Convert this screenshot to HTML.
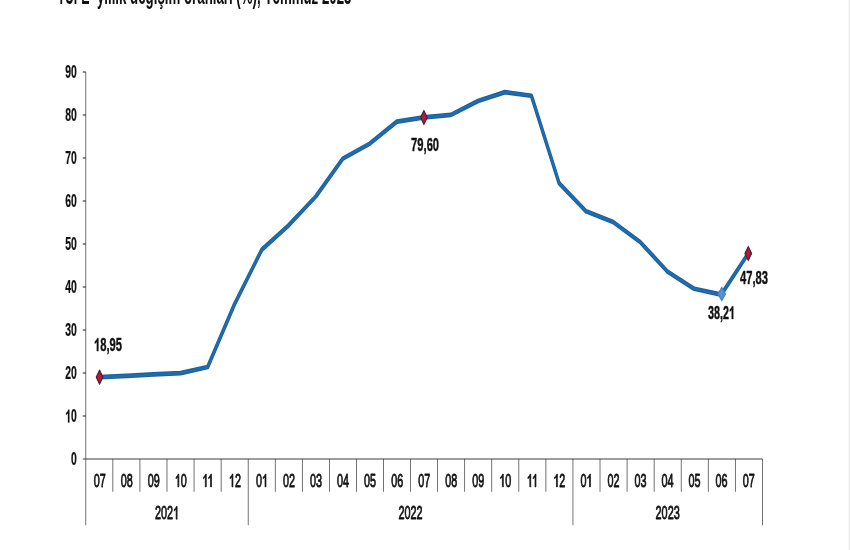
<!DOCTYPE html>
<html><head><meta charset="utf-8"><title>chart</title>
<style>
html,body{margin:0;padding:0;background:#fff;}
body{width:850px;height:550px;overflow:hidden;position:relative;font-family:"Liberation Sans",sans-serif;}
svg{position:absolute;left:0;top:0;display:block;will-change:transform;}
text{font-family:"Liberation Sans",sans-serif;fill:#111;font-kerning:none;}
.b{font-weight:bold;}
.h{fill:none;stroke:none;}
.r{fill:#111;stroke:#111;stroke-width:0.7px;stroke-linejoin:round;}
.d{fill:#111;stroke:#111;stroke-width:0.35px;stroke-linejoin:round;}
.y{fill:#111;stroke:#111;stroke-width:0.2px;stroke-linejoin:round;}
.r *,.d *,.y *{vector-effect:non-scaling-stroke;}
.r text,.d text,.y text{stroke-width:inherit;}
.r .h,.d .h,.y .h{fill:none;stroke:none;}
</style></head><body>
<svg width="850" height="550" viewBox="0 0 850 550">
<rect width="850" height="550" fill="#ffffff"/>
<rect x="848.6" y="0" width="1.4" height="550" fill="#e9e9e9"/>
<text class="b" x="57.4" y="3.7" font-size="25" textLength="32.2" lengthAdjust="spacingAndGlyphs">TÜFE</text>
<text class="b" x="96.9" y="3.7" font-size="25" textLength="254.6" lengthAdjust="spacingAndGlyphs">yıllık değişim oranları (%), Temmuz 2023</text>
<g transform="scale(0.6 1)" stroke="#3c3c3c" stroke-width="1.2" fill="none">
<line x1="143.00" y1="72" x2="143.00" y2="459.0"/>
<line x1="138.00" y1="459.0" x2="1270.67" y2="459.0"/>
<line x1="138.00" y1="416.0" x2="143.00" y2="416.0"/>
<line x1="138.00" y1="373.0" x2="143.00" y2="373.0"/>
<line x1="138.00" y1="330.0" x2="143.00" y2="330.0"/>
<line x1="138.00" y1="287.0" x2="143.00" y2="287.0"/>
<line x1="138.00" y1="244.0" x2="143.00" y2="244.0"/>
<line x1="138.00" y1="201.0" x2="143.00" y2="201.0"/>
<line x1="138.00" y1="158.0" x2="143.00" y2="158.0"/>
<line x1="138.00" y1="115.0" x2="143.00" y2="115.0"/>
<line x1="138.00" y1="72.0" x2="143.00" y2="72.0"/>
<line x1="143.00" y1="459.0" x2="143.00" y2="525.3"/>
<line x1="188.11" y1="459.0" x2="188.11" y2="491.8"/>
<line x1="233.21" y1="459.0" x2="233.21" y2="491.8"/>
<line x1="278.32" y1="459.0" x2="278.32" y2="491.8"/>
<line x1="323.43" y1="459.0" x2="323.43" y2="491.8"/>
<line x1="368.53" y1="459.0" x2="368.53" y2="491.8"/>
<line x1="413.64" y1="459.0" x2="413.64" y2="525.3"/>
<line x1="458.75" y1="459.0" x2="458.75" y2="491.8"/>
<line x1="503.85" y1="459.0" x2="503.85" y2="491.8"/>
<line x1="548.96" y1="459.0" x2="548.96" y2="491.8"/>
<line x1="594.07" y1="459.0" x2="594.07" y2="491.8"/>
<line x1="639.17" y1="459.0" x2="639.17" y2="491.8"/>
<line x1="684.28" y1="459.0" x2="684.28" y2="491.8"/>
<line x1="729.39" y1="459.0" x2="729.39" y2="491.8"/>
<line x1="774.49" y1="459.0" x2="774.49" y2="491.8"/>
<line x1="819.60" y1="459.0" x2="819.60" y2="491.8"/>
<line x1="864.71" y1="459.0" x2="864.71" y2="491.8"/>
<line x1="909.81" y1="459.0" x2="909.81" y2="491.8"/>
<line x1="954.92" y1="459.0" x2="954.92" y2="525.3"/>
<line x1="1000.03" y1="459.0" x2="1000.03" y2="491.8"/>
<line x1="1045.13" y1="459.0" x2="1045.13" y2="491.8"/>
<line x1="1090.24" y1="459.0" x2="1090.24" y2="491.8"/>
<line x1="1135.35" y1="459.0" x2="1135.35" y2="491.8"/>
<line x1="1180.45" y1="459.0" x2="1180.45" y2="491.8"/>
<line x1="1225.56" y1="459.0" x2="1225.56" y2="491.8"/>
<line x1="1270.67" y1="459.0" x2="1270.67" y2="525.3"/>
</g>
<g transform="translate(71.10 465.40) scale(0.5640 1)" class="y"><text x="0.00" y="0" font-size="18.5" font-weight="bold">0</text></g>
<g transform="translate(65.29 422.40) scale(0.5640 1)" class="y"><text x="0.00 10.29" y="0" font-size="18.5" font-weight="bold"><tspan class="h">1</tspan>0</text><path transform="translate(0.00 0) scale(0.00903 -0.00903)" d="M806 0H525V1018Q371 879 162 813V1058Q272 1093 401 1189Q530 1286 578 1409H806Z"/></g>
<g transform="translate(65.29 379.40) scale(0.5640 1)" class="y"><text x="0.00 10.29" y="0" font-size="18.5" font-weight="bold">20</text></g>
<g transform="translate(65.29 336.40) scale(0.5640 1)" class="y"><text x="0.00 10.29" y="0" font-size="18.5" font-weight="bold">30</text></g>
<g transform="translate(65.29 293.40) scale(0.5640 1)" class="y"><text x="0.00 10.29" y="0" font-size="18.5" font-weight="bold">40</text></g>
<g transform="translate(65.29 250.40) scale(0.5640 1)" class="y"><text x="0.00 10.29" y="0" font-size="18.5" font-weight="bold">50</text></g>
<g transform="translate(65.29 207.40) scale(0.5640 1)" class="y"><text x="0.00 10.29" y="0" font-size="18.5" font-weight="bold">60</text></g>
<g transform="translate(65.29 164.40) scale(0.5640 1)" class="y"><text x="0.00 10.29" y="0" font-size="18.5" font-weight="bold">70</text></g>
<g transform="translate(65.29 121.40) scale(0.5640 1)" class="y"><text x="0.00 10.29" y="0" font-size="18.5" font-weight="bold">80</text></g>
<g transform="translate(65.29 78.40) scale(0.5640 1)" class="y"><text x="0.00 10.29" y="0" font-size="18.5" font-weight="bold">90</text></g>
<g transform="translate(93.69 486.90) scale(0.5780 1)" class="r"><text x="0.00 10.40" y="0" font-size="18.7">07</text></g>
<g transform="translate(120.73 486.90) scale(0.5780 1)" class="r"><text x="0.00 10.40" y="0" font-size="18.7">08</text></g>
<g transform="translate(147.77 486.90) scale(0.5780 1)" class="r"><text x="0.00 10.40" y="0" font-size="18.7">09</text></g>
<g transform="translate(174.81 486.90) scale(0.5780 1)" class="r"><text x="0.00 10.40" y="0" font-size="18.7"><tspan class="h">1</tspan>0</text><path transform="translate(0.00 0) scale(0.00913 -0.00913)" d="M763 0H583V1102Q518 1043 412 983Q307 924 223 894V1061Q374 1129 487 1226Q600 1323 647 1409H763Z"/></g>
<g transform="translate(202.25 486.90) scale(0.5780 1)" class="r"><text x="0.00 9.01" y="0" font-size="18.7"><tspan class="h">1</tspan><tspan class="h">1</tspan></text><path transform="translate(0.00 0) scale(0.00913 -0.00913)" d="M763 0H583V1102Q518 1043 412 983Q307 924 223 894V1061Q374 1129 487 1226Q600 1323 647 1409H763Z"/><path transform="translate(9.01 0) scale(0.00913 -0.00913)" d="M763 0H583V1102Q518 1043 412 983Q307 924 223 894V1061Q374 1129 487 1226Q600 1323 647 1409H763Z"/></g>
<g transform="translate(228.89 486.90) scale(0.5780 1)" class="r"><text x="0.00 10.40" y="0" font-size="18.7"><tspan class="h">1</tspan>2</text><path transform="translate(0.00 0) scale(0.00913 -0.00913)" d="M763 0H583V1102Q518 1043 412 983Q307 924 223 894V1061Q374 1129 487 1226Q600 1323 647 1409H763Z"/></g>
<g transform="translate(255.93 486.90) scale(0.5780 1)" class="r"><text x="0.00 10.40" y="0" font-size="18.7">0<tspan class="h">1</tspan></text><path transform="translate(10.40 0) scale(0.00913 -0.00913)" d="M763 0H583V1102Q518 1043 412 983Q307 924 223 894V1061Q374 1129 487 1226Q600 1323 647 1409H763Z"/></g>
<g transform="translate(282.97 486.90) scale(0.5780 1)" class="r"><text x="0.00 10.40" y="0" font-size="18.7">02</text></g>
<g transform="translate(310.01 486.90) scale(0.5780 1)" class="r"><text x="0.00 10.40" y="0" font-size="18.7">03</text></g>
<g transform="translate(337.05 486.90) scale(0.5780 1)" class="r"><text x="0.00 10.40" y="0" font-size="18.7">04</text></g>
<g transform="translate(364.09 486.90) scale(0.5780 1)" class="r"><text x="0.00 10.40" y="0" font-size="18.7">05</text></g>
<g transform="translate(391.13 486.90) scale(0.5780 1)" class="r"><text x="0.00 10.40" y="0" font-size="18.7">06</text></g>
<g transform="translate(418.17 486.90) scale(0.5780 1)" class="r"><text x="0.00 10.40" y="0" font-size="18.7">07</text></g>
<g transform="translate(445.21 486.90) scale(0.5780 1)" class="r"><text x="0.00 10.40" y="0" font-size="18.7">08</text></g>
<g transform="translate(472.25 486.90) scale(0.5780 1)" class="r"><text x="0.00 10.40" y="0" font-size="18.7">09</text></g>
<g transform="translate(499.29 486.90) scale(0.5780 1)" class="r"><text x="0.00 10.40" y="0" font-size="18.7"><tspan class="h">1</tspan>0</text><path transform="translate(0.00 0) scale(0.00913 -0.00913)" d="M763 0H583V1102Q518 1043 412 983Q307 924 223 894V1061Q374 1129 487 1226Q600 1323 647 1409H763Z"/></g>
<g transform="translate(526.73 486.90) scale(0.5780 1)" class="r"><text x="0.00 9.01" y="0" font-size="18.7"><tspan class="h">1</tspan><tspan class="h">1</tspan></text><path transform="translate(0.00 0) scale(0.00913 -0.00913)" d="M763 0H583V1102Q518 1043 412 983Q307 924 223 894V1061Q374 1129 487 1226Q600 1323 647 1409H763Z"/><path transform="translate(9.01 0) scale(0.00913 -0.00913)" d="M763 0H583V1102Q518 1043 412 983Q307 924 223 894V1061Q374 1129 487 1226Q600 1323 647 1409H763Z"/></g>
<g transform="translate(553.37 486.90) scale(0.5780 1)" class="r"><text x="0.00 10.40" y="0" font-size="18.7"><tspan class="h">1</tspan>2</text><path transform="translate(0.00 0) scale(0.00913 -0.00913)" d="M763 0H583V1102Q518 1043 412 983Q307 924 223 894V1061Q374 1129 487 1226Q600 1323 647 1409H763Z"/></g>
<g transform="translate(580.41 486.90) scale(0.5780 1)" class="r"><text x="0.00 10.40" y="0" font-size="18.7">0<tspan class="h">1</tspan></text><path transform="translate(10.40 0) scale(0.00913 -0.00913)" d="M763 0H583V1102Q518 1043 412 983Q307 924 223 894V1061Q374 1129 487 1226Q600 1323 647 1409H763Z"/></g>
<g transform="translate(607.45 486.90) scale(0.5780 1)" class="r"><text x="0.00 10.40" y="0" font-size="18.7">02</text></g>
<g transform="translate(634.49 486.90) scale(0.5780 1)" class="r"><text x="0.00 10.40" y="0" font-size="18.7">03</text></g>
<g transform="translate(661.53 486.90) scale(0.5780 1)" class="r"><text x="0.00 10.40" y="0" font-size="18.7">04</text></g>
<g transform="translate(688.57 486.90) scale(0.5780 1)" class="r"><text x="0.00 10.40" y="0" font-size="18.7">05</text></g>
<g transform="translate(715.61 486.90) scale(0.5780 1)" class="r"><text x="0.00 10.40" y="0" font-size="18.7">06</text></g>
<g transform="translate(742.65 486.90) scale(0.5780 1)" class="r"><text x="0.00 10.40" y="0" font-size="18.7">07</text></g>
<g transform="translate(154.89 519.20) scale(0.5820 1)" class="r"><text x="0.00 10.40 20.80 31.20" y="0" font-size="18.7">202<tspan class="h">1</tspan></text><path transform="translate(31.20 0) scale(0.00913 -0.00913)" d="M763 0H583V1102Q518 1043 412 983Q307 924 223 894V1061Q374 1129 487 1226Q600 1323 647 1409H763Z"/></g>
<g transform="translate(398.46 519.20) scale(0.5820 1)" class="r"><text x="0.00 10.40 20.80 31.20" y="0" font-size="18.7">2022</text></g>
<g transform="translate(655.57 519.20) scale(0.5820 1)" class="r"><text x="0.00 10.40 20.80 31.20" y="0" font-size="18.7">2023</text></g>
<g transform="scale(0.72 1)">
<path d="M138.26,377.16 L175.81,375.87 L213.35,374.46 L250.89,373.13 L288.43,367.05 L325.97,303.81 L363.51,249.81 L401.06,225.19 L438.60,196.50 L476.14,158.69 L513.68,143.57 L551.22,121.65 L588.76,117.45 L626.31,114.84 L663.85,100.97 L701.39,92.15 L738.10,95.74 L776.47,183.10 L814.01,211.31 L851.56,222.02 L889.10,242.02 L926.64,271.26 L964.18,288.78 L1001.72,294.68 L1039.26,253.49" fill="none" stroke="#1b5f9b" stroke-width="4.7" stroke-linejoin="round" stroke-linecap="round"/>
<path d="M138.26,377.16 L175.81,375.87 L213.35,374.46 L250.89,373.13 L288.43,367.05 L325.97,303.81 L363.51,249.81 L401.06,225.19 L438.60,196.50 L476.14,158.69 L513.68,143.57 L551.22,121.65 L588.76,117.45 L626.31,114.84 L663.85,100.97 L701.39,92.15 L738.10,95.74 L776.47,183.10 L814.01,211.31 L851.56,222.02 L889.10,242.02 L926.64,271.26 L964.18,288.78 L1001.72,294.68 L1039.26,253.49" fill="none" stroke="#1f6dae" stroke-width="2.6" stroke-linejoin="round" stroke-linecap="round"/>
<path d="M138.26,370.26 L142.85,377.16 L138.26,384.06 L133.68,377.16 Z" fill="#b01c36" stroke="#4e1a40" stroke-width="1.5" stroke-linejoin="round"/>
<path d="M588.76,110.55 L593.35,117.45 L588.76,124.35 L584.18,117.45 Z" fill="#b01c36" stroke="#4e1a40" stroke-width="1.5" stroke-linejoin="round"/>
<path d="M1039.26,246.59 L1043.85,253.49 L1039.26,260.39 L1034.68,253.49 Z" fill="#b01c36" stroke="#4e1a40" stroke-width="1.5" stroke-linejoin="round"/>
<path d="M1002.42,287.38 L1007.56,293.98 L1002.42,300.58 L997.28,293.98 Z" fill="#5b8fd4" stroke="#4a80c8" stroke-width="1.5" stroke-linejoin="round"/>
</g>
<g transform="translate(94.00 351.10) scale(0.6016 1)" class="d"><text x="0.00 10.34 20.69 25.86 36.20" y="0" font-size="18.6" font-weight="bold"><tspan class="h">1</tspan>8,95</text><path transform="translate(0.00 0) scale(0.00908 -0.00908)" d="M806 0H525V1018Q371 879 162 813V1058Q272 1093 401 1189Q530 1286 578 1409H806Z"/></g>
<g transform="translate(411.10 151.30) scale(0.6016 1)" class="d"><text x="0.00 10.34 20.69 25.86 36.20" y="0" font-size="18.6" font-weight="bold">79,60</text></g>
<g transform="translate(708.00 319.00) scale(0.5801 1)" class="d"><text x="0.00 10.34 20.69 25.86 36.20" y="0" font-size="18.6" font-weight="bold">38,2<tspan class="h">1</tspan></text><path transform="translate(36.20 0) scale(0.00908 -0.00908)" d="M806 0H525V1018Q371 879 162 813V1058Q272 1093 401 1189Q530 1286 578 1409H806Z"/></g>
<g transform="translate(740.00 283.60) scale(0.6016 1)" class="d"><text x="0.00 10.34 20.69 25.86 36.20" y="0" font-size="18.6" font-weight="bold">47,83</text></g>
</svg>
</body></html>
